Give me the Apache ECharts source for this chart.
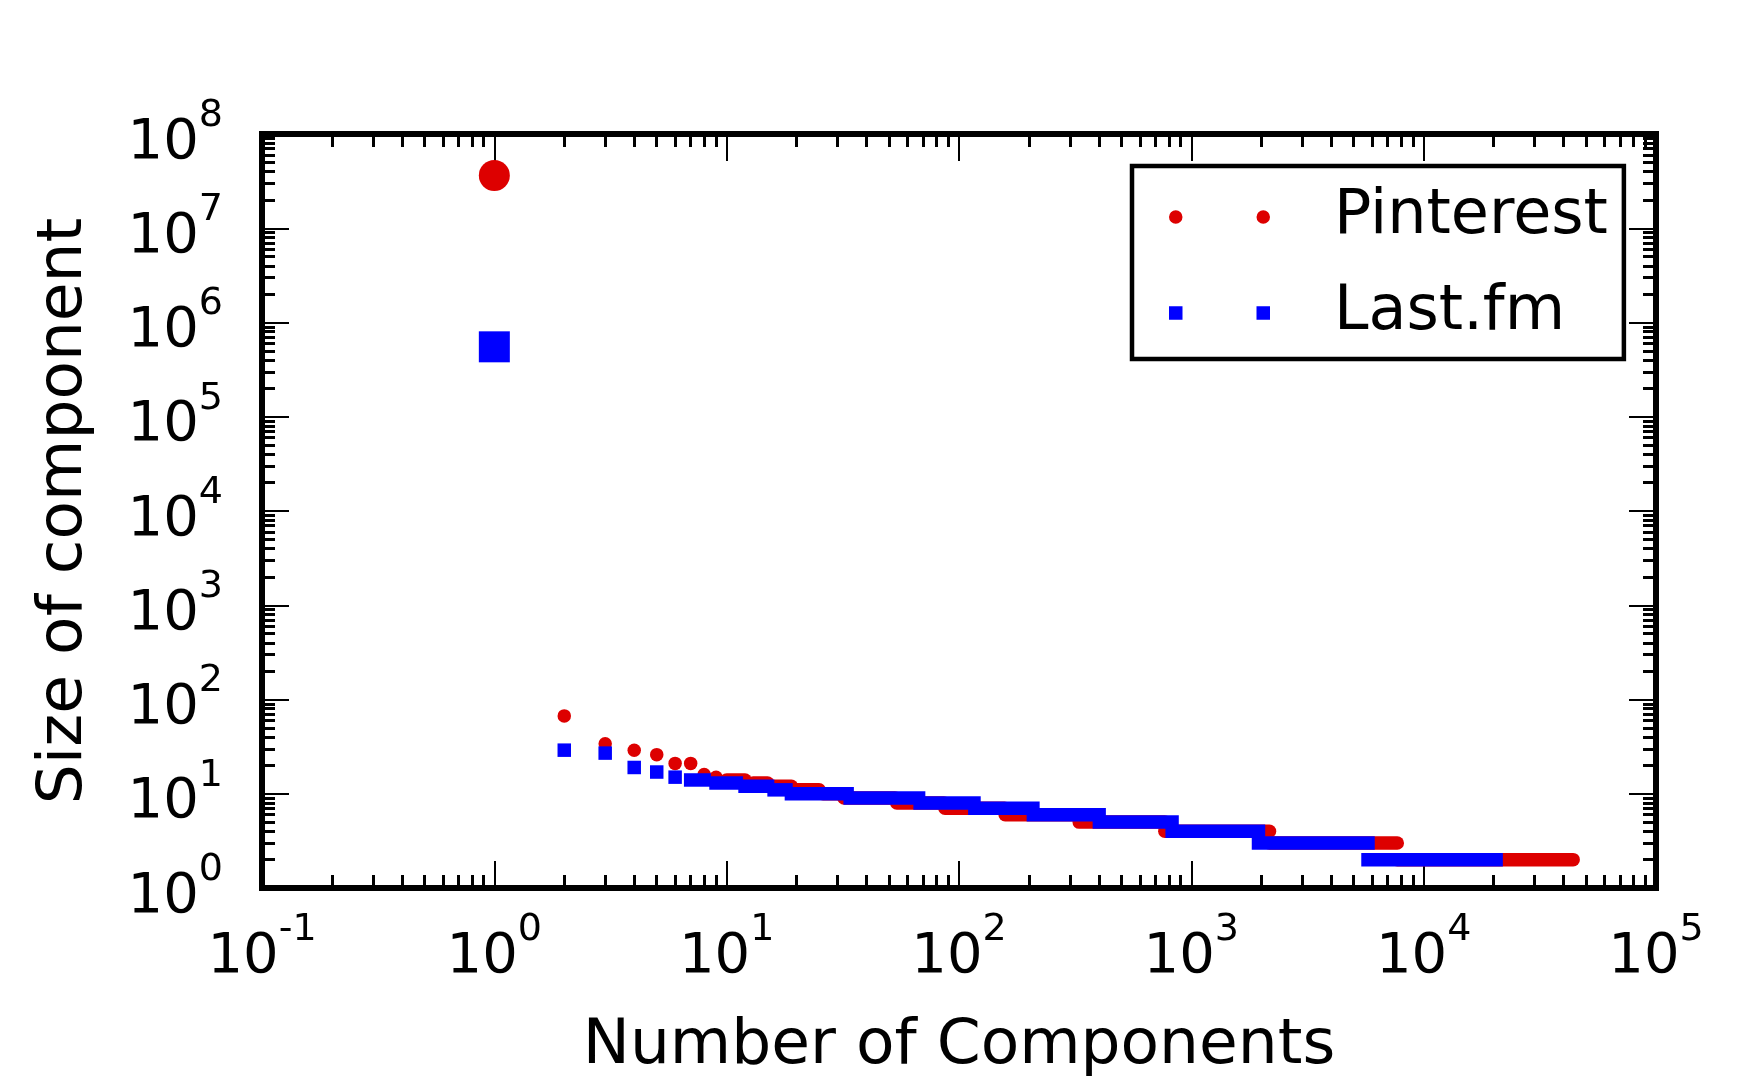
<!DOCTYPE html>
<html><head><meta charset="utf-8">
<script src="https://cdn.jsdelivr.net/npm/echarts@6/dist/echarts.min.js"></script>
<style>html,body{margin:0;padding:0;background:#fff}#c{width:1750px;height:1083px}</style>
</head><body><div id="c"></div>
<script>
// ---- data ----
const xExponents = [-1, 0, 1, 2, 3, 4, 5];          // x tick labels 10^e
const yExponents = [0, 1, 2, 3, 4, 5, 6, 7, 8];     // y tick labels 10^e
const xTitle = 'Number of Components';
const yTitle = 'Size of component';
const seriesNames = ['Pinterest', 'Last.fm'];

// each run: components ranked first..last all have the same size
const pinterestSize  = [36300000, 67, 34, 29, 26, 21, 21, 16, 15, 14, 13, 12, 11, 10, 9, 8, 7, 6, 5, 4, 3, 2];
const pinterestFirst = [1, 2, 3, 4, 5, 6, 7, 8, 9, 10, 13, 16, 20, 26, 32, 54, 87, 158, 329, 769, 2171, 7701];
const pinterestLast  = [1, 2, 3, 4, 5, 6, 7, 8, 9, 12, 15, 19, 25, 31, 53, 86, 157, 328, 768, 2170, 7700, 44000];

const lastfmSize  = [552000, 29, 27, 19, 17, 15, 14, 13, 12, 11, 10, 9, 8, 7, 6, 5, 4, 3, 2];
const lastfmFirst = [1, 2, 3, 4, 5, 6, 7, 9, 12, 16, 19, 34, 68, 117, 209, 402, 827, 1946, 5761];
const lastfmLast  = [1, 2, 3, 4, 5, 6, 8, 11, 15, 18, 33, 67, 116, 208, 401, 826, 1945, 5760, 20500];

// ---- styling ----
const FONT = 'DejaVu Sans';
const RED = '#dd0000', BLUE = '#0000ff';
const minorOffsets = [2, 3, 4, 5, 6, 7, 8, 9].map(m => Math.log10(m));
function minorTicks(lo, hi) {
  const out = [];
  for (let e = lo; e < hi; e++) minorOffsets.forEach(o => out.push(e + o));
  return out;
}
const xMin = Math.pow(10, xExponents[0]), xMax = Math.pow(10, xExponents[xExponents.length - 1]);
const yMin = Math.pow(10, yExponents[0]), yMax = Math.pow(10, yExponents[yExponents.length - 1]);

function expLabel(list) {
  return function (v) {
    const lv = Math.log10(v);
    const e = list.find(k => Math.abs(k - lv) < 1e-6);
    return e === undefined ? '' : '{b|10}{s|' + e + '}';
  };
}
const richLbl = {
  b: {fontFamily: FONT, fontSize: 56, height: 56, lineHeight: 74, verticalAlign: 'bottom', color: '#000'},
  s: {fontFamily: FONT, fontSize: 38, height: 38, lineHeight: 74, verticalAlign: 'top', color: '#000'}
};
const majorTick = {show: true, inside: true, length: 27, lineStyle: {color: '#000', width: 2}};
const minorTickStyle = {color: '#000', width: 3};
const noLine = {show: false, onZero: false};
const hidden = {show: false};

function runs(first, last, size) { return first.map((f, i) => [f, last[i], size[i]]); }

function makeRenderer(roundEnds) {
  return function (params, api) {
    const a = api.coord([api.value(0), api.value(2)]);
    const b = api.coord([api.value(1), api.value(2)]);
    const r = params.dataIndex === 0 ? 15.5 : 6.75;
    return {
      type: 'rect',
      shape: {x: a[0] - r, y: a[1] - r, width: b[0] - a[0] + 2 * r, height: 2 * r, r: roundEnds ? r : 0},
      style: {fill: api.visual('color')}
    };
  };
}

const xLo = xExponents[0], xHi = xExponents[xExponents.length - 1];
const yLo = yExponents[0], yHi = yExponents[yExponents.length - 1];

const chart = echarts.init(document.getElementById('c'), null, {renderer: 'canvas'});
chart.setOption({
  animation: false,
  backgroundColor: '#fff',
  grid: {left: 262, right: 94, top: 134, bottom: 194, show: true, borderColor: '#000', borderWidth: 6, backgroundColor: 'transparent'},
  xAxis: [
    {type: 'log', logBase: 10, min: xMin, max: xMax, splitNumber: 6, position: 'bottom',
     axisLine: noLine, splitLine: hidden, axisTick: majorTick,
     axisLabel: {show: true, margin: 23, formatter: expLabel(xExponents), rich: richLbl, showMinLabel: true, showMaxLabel: true, interval: 0, hideOverlap: false},
     name: xTitle, nameLocation: 'middle', nameGap: 127,
     nameTextStyle: {fontFamily: FONT, fontSize: 63, lineHeight: 63, color: '#000'}},
    {type: 'log', logBase: 10, min: xMin, max: xMax, splitNumber: 6, position: 'top',
     axisLine: noLine, splitLine: hidden, axisTick: majorTick, axisLabel: hidden},
    {type: 'value', min: xLo, max: xHi, position: 'bottom',
     axisLine: noLine, splitLine: hidden, axisLabel: hidden,
     axisTick: {show: true, inside: true, length: 13, customValues: minorTicks(xLo, xHi), lineStyle: minorTickStyle}},
    {type: 'value', min: xLo, max: xHi, position: 'top',
     axisLine: noLine, splitLine: hidden, axisLabel: hidden,
     axisTick: {show: true, inside: true, length: 13, customValues: minorTicks(xLo, xHi), lineStyle: minorTickStyle}}
  ],
  yAxis: [
    {type: 'log', logBase: 10, min: yMin, max: yMax, splitNumber: 8, position: 'left',
     axisLine: noLine, splitLine: hidden, axisTick: majorTick,
     axisLabel: {show: true, margin: 39, formatter: expLabel(yExponents), rich: richLbl, showMinLabel: true, showMaxLabel: true, interval: 0, hideOverlap: false},
     name: yTitle, nameLocation: 'middle', nameGap: 166, nameRotate: 90,
     nameTextStyle: {fontFamily: FONT, fontSize: 63, lineHeight: 63, color: '#000'}},
    {type: 'log', logBase: 10, min: yMin, max: yMax, splitNumber: 8, position: 'right',
     axisLine: noLine, splitLine: hidden, axisTick: majorTick, axisLabel: hidden},
    {type: 'value', min: yLo, max: yHi, position: 'left',
     axisLine: noLine, splitLine: hidden, axisLabel: hidden,
     axisTick: {show: true, inside: true, length: 13, customValues: minorTicks(yLo, yHi), lineStyle: minorTickStyle}},
    {type: 'value', min: yLo, max: yHi, position: 'right',
     axisLine: noLine, splitLine: hidden, axisLabel: hidden,
     axisTick: {show: true, inside: true, length: 13, customValues: minorTicks(yLo, yHi), lineStyle: minorTickStyle}}
  ],
  legend: {
    orient: 'vertical', left: 1132, top: 166, z: 10,
    itemWidth: 101, itemHeight: 13.5, itemGap: 34,
    padding: [20, 16, 15, 37],
    borderColor: '#000', borderWidth: 4.5, backgroundColor: '#fff',
    selectedMode: false,
    textStyle: {fontFamily: FONT, fontSize: 62, lineHeight: 62, color: '#000', padding: [0, 0, 0, 59]},
    data: [
      {name: seriesNames[0], icon: 'path://M0,6.75A6.75,6.75 0 1,0 13.5,6.75A6.75,6.75 0 1,0 0,6.75ZM87.5,6.75A6.75,6.75 0 1,0 101,6.75A6.75,6.75 0 1,0 87.5,6.75Z'},
      {name: seriesNames[1], icon: 'path://M0,0H13.5V13.5H0ZM87.5,0H101V13.5H87.5Z'}
    ]
  },
  series: [
    {type: 'custom', name: seriesNames[0], xAxisIndex: 0, yAxisIndex: 0, z: 2,
     itemStyle: {color: RED}, encode: {x: [0, 1], y: 2},
     renderItem: makeRenderer(true), data: runs(pinterestFirst, pinterestLast, pinterestSize)},
    {type: 'custom', name: seriesNames[1], xAxisIndex: 0, yAxisIndex: 0, z: 3,
     itemStyle: {color: BLUE}, encode: {x: [0, 1], y: 2},
     renderItem: makeRenderer(false), data: runs(lastfmFirst, lastfmLast, lastfmSize)}
  ]
});
</script></body></html>
